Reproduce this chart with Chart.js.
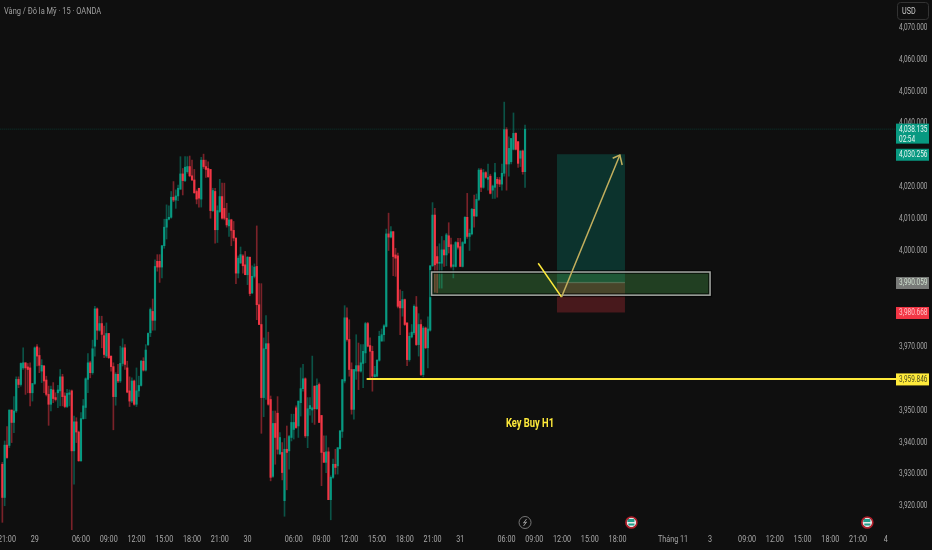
<!DOCTYPE html>
<html>
<head>
<meta charset="utf-8">
<style>
  html, body { margin: 0; padding: 0; background: #0f0f0f; }
  canvas { display: block; }
</style>
<script src="https://cdn.jsdelivr.net/npm/chart.js@4/dist/chart.umd.min.js"></script>
</head>
<body>
<canvas id="chart" width="932" height="550"></canvas>
<script>
const opens = [
  3933.1,3922.7,3939.1,3939,3950.1,3946.2,3949.8,3959.7,3958.1,3963.3,
  3964.9,3963.6,3963.3,3955.5,3958.4,3969.9,3967.2,3962.3,3963.9,3959.5,
  3955,3951.9,3956.4,3954,3955.5,3956.1,3960.5,3954.5,3951.2,3955,
  3956.1,3937.3,3946.4,3943.2,3934.2,3947.4,3950.9,3959.7,3964.9,3961.8,
  3970.1,3981.8,3975.1,3977.2,3973.4,3967,3974.1,3967,3963.7,3954.3,
  3961.3,3959.2,3964.7,3969.6,3963.3,3956.1,3952.9,3959.2,3951.9,3956.1,
  3957.8,3965.4,3962.6,3970.6,3974.3,3981,3978.2,3996.7,3996.7,3994.9,
  4001.6,4007.4,4009.9,4010.5,4016.8,4015.9,4017.2,4019.3,4024.1,4022,
  4024.8,4026.4,4023.5,4022.2,4018.6,4019.6,4016.2,4028.4,4026.4,4025.8,
  4025.5,4012.6,4018.6,4006.6,4012.3,4017,4013.3,4010.2,4007.8,4009.7,
  4006.4,4004,3993,3996.2,3998.4,3995.6,3992.5,3998,3986.8,3992,
  3995.1,3983.1,3976.9,3954,3969.3,3970.9,3953.4,3929.3,3945.9,3949.1,
  3936.3,3936.8,3921.7,3937.8,3937.3,3941.5,3944,3950.8,3945.1,3952.4,
  3956.8,3959.9,3942,3950.5,3950.1,3957.6,3950.5,3958.1,3948.4,3936.8,
  3933.7,3937,3922,3929,3933.1,3932.6,3938,3943.4,3959.2,3979,
  3972.2,3962.8,3950.3,3962.3,3964,3962.3,3964.7,3968,3977.2,3970.3,
  3968.5,3960.5,3960.7,3965.7,3971.7,3973.7,3976.3,4005.3,4004.3,4006,
  3998.7,3998.4,3984.2,3982.1,3984.7,3977.4,3965.9,3973,3974.3,3982.4,
  3970.6,3976.9,3961.2,3975.8,3969.6,3975.1,3995.3,4011.2,3998.2,3996.1,
  3996.1,4000.3,3998.7,4004.7,4001.9,3995.1,3995.1,4002.6,4001.3,3995.1,
  4002.4,4010.5,4004.5,4005.3,4013,4010.9,4016.1,4025.3,4019.9,4024.5,
  4022.4,4023.4,4019,4019.9,4022.4,4022.2,4020.9,4024.3,4038,4027.2,
  4027.9,4031.8,4036.8,4034.2,4029,4031.3,4024.8
];
const highs = [
  3933.7,3940.4,3944.9,3950.1,3950.1,3954.3,3960.5,3960.5,3964.9,3969.6,
  3964.9,3964.7,3964.9,3958.4,3969.9,3970.6,3969.6,3965.9,3964.1,3960.7,
  3957.6,3957.6,3958.7,3955.5,3957.8,3962.8,3961.3,3955.5,3956.6,3956.4,
  3956.4,3948.2,3947.7,3943.5,3949.3,3953.4,3960.2,3967.8,3965.4,3972,
  3982.6,3982.1,3979.5,3979.5,3976.4,3977.4,3974.1,3967,3964.9,3961.8,
  3964.4,3970.1,3972.4,3970.6,3965.4,3960.5,3960.2,3959.5,3963.3,3960.7,
  3965.7,3966.5,3970.6,3974.3,3982.1,3984.9,3997.2,3998.8,3998.8,4001.6,
  4009.9,4014.4,4014.1,4018.6,4021.7,4019.1,4020.6,4029.5,4025.8,4029.5,
  4029.5,4029.7,4028.4,4025.5,4019.1,4019.6,4029.3,4030.3,4028.4,4027.9,
  4025.5,4019.6,4019.6,4014.1,4022.4,4021.2,4021.2,4014.9,4011.8,4009.9,
  4009.2,4004,3998.4,4001.2,3998.8,3999.8,3998.2,3998,3995.3,3995.9,
  4007.8,3989.7,3989.7,3972.7,3979.7,3974.5,3954.5,3949.8,3949.8,3954.3,
  3943,3939.9,3941.2,3945.1,3942.2,3948.8,3948.8,3951.4,3952.9,3963.3,
  3964.4,3960.2,3954,3954,3967,3957.6,3959.9,3958.6,3948.4,3942,
  3942,3938.3,3929.5,3934.7,3937.8,3938.3,3943.6,3959.7,3982.8,3982.1,
  3978.4,3964.9,3962.8,3973.7,3971.1,3970.6,3970.6,3977.6,3977.6,3972.7,
  3970.1,3963.8,3965.9,3974.8,3975.5,3976.9,4006.8,4011.8,4007.6,4006,
  4000.8,3999.3,3987.8,3987.3,3984.9,3977.4,3974.3,3976.9,3983.1,3985.7,
  3980.3,3978.4,3976.3,3976.1,3979.3,3995.3,4015.1,4013.3,4001.3,4002.2,
  4004.5,4003.2,4005.5,4008.8,4004,4001.9,4002.9,4003.9,4003.9,4002.9,
  4010.7,4018,4006.8,4013.3,4017.5,4017.8,4025.8,4025.8,4025.5,4024.8,
  4027.2,4024,4020.6,4027.4,4023,4023,4027.2,4046.6,4038.6,4035.7,
  4035.2,4043.2,4037,4034.2,4031.3,4031.6,4039.4
];
const lows = [
  3914.9,3920.1,3934.9,3938.3,3939.9,3943,3949.3,3957.1,3957.6,3962.8,
  3955,3955.5,3951.4,3952.9,3958.1,3963.9,3961.8,3958.7,3955.5,3954.5,
  3945.3,3949.8,3952.4,3952.9,3950.8,3951.4,3951.4,3950.8,3950.8,3951.4,
  3912.3,3926.9,3939.9,3934,3934,3947.2,3947.4,3955.5,3960.2,3961.3,
  3967,3972.2,3974.8,3969.6,3966.5,3966.5,3966.2,3962.3,3943.9,3951.6,
  3958.7,3958.7,3963.9,3962.8,3955.5,3951.2,3952.4,3951.6,3951.2,3954.3,
  3957.6,3962.3,3962.3,3970.3,3973.1,3975.1,3975.1,3993.6,3990.1,3991.5,
  4000.8,4003.7,4009.7,4010.2,4015.4,4013.3,4015.7,4019.3,4017.5,4021.7,
  4024.3,4023.2,4022,4018,4014.7,4013.7,4013.7,4025.8,4023,4023,
  4010.2,4012.3,4002.4,4002.6,4012,4009.9,4009.7,4007.4,4004.5,4001.6,
  4003.1,3989.7,3991.5,3996,3993,3992.5,3989.4,3985.9,3986.6,3991.5,
  3978.4,3976.9,3942.8,3948,3953.4,3951.6,3927.9,3929,3933.1,3936.3,
  3936.3,3928.2,3916.8,3925.1,3931.6,3940.4,3941,3944.3,3941.5,3948.2,
  3956,3941.5,3938.3,3948.5,3946.2,3945.6,3950.3,3946.2,3926.4,3933.7,
  3930.5,3922,3915.7,3928.7,3930,3930,3937.8,3941.5,3958.6,3971.7,
  3960.7,3948.8,3947.2,3959.7,3956.5,3962,3957.1,3964.9,3969.9,3959.7,
  3956,3960.5,3960.5,3965.4,3971.7,3971.7,3976.1,4000.1,4004,3992.2,
  3992,3982.1,3973.7,3979.5,3976.6,3964,3965.4,3972.7,3973.7,3970.3,
  3967,3960.9,3960.5,3969.3,3963.3,3974.8,3995.1,3987,3986.8,3988.3,
  3988.3,3995.1,3995.3,3999.3,3994.6,3991.5,3994.9,4000.5,3995.1,3994.9,
  4002.2,4003.9,4000.1,4005,4007.4,4010.7,4015.7,4018.5,4019.6,4022.7,
  4019,4017.8,4016.4,4016.4,4016.8,4020.1,4019,4023.4,4019,4023.4,
  4027.2,4031.6,4031.6,4026.1,4026.4,4024,4019.9
];
const closes = [
  3922.7,3939.1,3935.2,3950.1,3946.2,3949.8,3959.7,3958.1,3964.7,3964.9,
  3963.3,3962.8,3955.5,3958.4,3969.6,3967,3964.1,3964.1,3959.2,3955,
  3951.9,3956.6,3953.7,3953.4,3956.4,3960.5,3954.3,3951.2,3955.3,3955.5,
  3937.3,3946.4,3943.2,3934.2,3947.4,3951.4,3959.9,3964.9,3961.8,3969.3,
  3981.8,3975.1,3977.2,3973.8,3967.5,3974.1,3966.5,3963.7,3954.3,3961.3,
  3959.2,3964.7,3969.6,3964.4,3955.7,3952.9,3959.2,3951.9,3956.1,3957.8,
  3965.4,3962.6,3968.9,3974.1,3981.6,3978.2,3995.1,3994.9,3994.9,4001.6,
  4007.4,4009.9,4010.5,4016.8,4015.9,4017.2,4019.6,4024.1,4022,4026.2,
  4026.4,4023.5,4022.2,4018.2,4016.2,4016.5,4028.4,4026.4,4025.5,4023.2,
  4012.6,4018.9,4006.6,4012.6,4017,4010.2,4010.2,4008.1,4009.7,4006.4,
  4004,3993,3997.7,3998.8,3995.3,3992.5,3998,3986.6,3992,3994.9,
  3983.1,3976.9,3954,3969.3,3970.9,3951.9,3929,3945.9,3941.5,3937.8,
  3941.5,3930.5,3937.8,3936.8,3941.8,3946.2,3946.2,3944.6,3952.9,3956.8,
  3959.9,3942,3950.5,3951.5,3950.8,3950.5,3957.8,3946.2,3936.8,3933.7,
  3937,3922,3929,3933.1,3932.1,3938.3,3943.6,3959.6,3979,3972.2,
  3962.8,3950.3,3962.8,3964,3962.3,3964.9,3968.5,3977.2,3970.1,3968.5,
  3960.7,3961.2,3965.7,3973.2,3973.7,3976.5,4005.3,4004.3,4006,3998.2,
  3997.7,3982.6,3982.1,3984.7,3976.9,3965.9,3973.2,3974.5,3982.6,3970.6,
  3976.9,3961.2,3975.8,3969.6,3975.5,3995.3,4011.2,3995.6,3996.1,3996.4,
  4000.3,3998.7,4005,4001.3,3995.1,3995.6,4002.6,4001.1,3995.1,4002.6,
  4010.5,4004.5,4005.5,4013,4010.9,4016.1,4025.3,4019.9,4024.5,4023,
  4023,4018,4020.3,4024.5,4021.1,4020.9,4024.3,4038,4027.2,4032.1,
  4035.2,4036.8,4031.8,4027.4,4031.3,4024.8,4038.1
];

// time axis, in 15 minute slots
const tickSlots = [2,14,34,46,58,70,82,94,106,126,138,150,162,174,186,198,218,230,242,254,266,290,306,322,334,346,358,370,382];
const tickLabels = ["21:00","29","06:00","09:00","12:00","15:00","18:00","21:00","30","06:00","09:00","12:00","15:00","18:00","21:00","31","06:00","09:00","12:00","15:00","18:00","Tháng 11","3","09:00","12:00","15:00","18:00","21:00","4"];

const lastPrice = 4038.135;
const keyBuyPrice = 3959.846;
const entryPrice = 3990.059;
const targetPrice = 4030.256;
const stopPrice = 3980.668;

const zoneSlots = [185.6, 306];
const zonePrices = [3993.35, 3986.1];
const positionSlots = [239.8, 269.2];
const priceLineSlots = [-2, 387];
const keyBuySlots = [157.5, 387];

const zigzagSlots = [231.7, 241.8];
const zigzagPrices = [3996.1, 3985.5];
const arrowSlots = [241.8, 267];
const arrowPrices = [3985.5, 4030];
const arrowHeadSlots = [263.9, 267, 268];
const arrowHeadPrices = [4029, 4030, 4026.9];

const eventSlots = [226, 272, 374];

const UP = "#089981";
const DOWN = "#f23645";
const UP_WICK = "#0b5347";
const DOWN_WICK = "#7a2229";
const TEXT = "#a8a8a8";
const FONT = "Roboto, sans-serif";

const toPoints = (xs, ys) => xs.map((x, i) => ({ x, y: ys[i] }));
const candleColor = (up, down) => opens.map((o, i) => (closes[i] >= o ? up : down));
const fmt = (v) => v.toLocaleString("en-US", { minimumFractionDigits: 3, maximumFractionDigits: 3 });

const lineSet = (data, color, width, order, extra) => ({
  type: "line", data, borderColor: color, borderWidth: width,
  pointRadius: 0, tension: 0, order, ...extra,
});

// the reference text is squeezed sideways, and none of the fonts are narrow
const squeezedText = (ctx, text, px, py, sx) => {
  ctx.save();
  ctx.translate(px, py);
  ctx.scale(sx, 1);
  ctx.fillText(text, 0, 0);
  ctx.restore();
};

const overlayPlugin = {
  id: "overlay",
  afterDatasetDraw(chart, args) {
    if (args.index !== 1) return;
    const { ctx, scales: { x, y } } = chart;
    const rect = (x0, x1, p0, p1, fill) => {
      ctx.fillStyle = fill;
      ctx.fillRect(x.getPixelForValue(x0), y.getPixelForValue(p0),
        x.getPixelForValue(x1) - x.getPixelForValue(x0), y.getPixelForValue(p1) - y.getPixelForValue(p0));
    };
    ctx.save();
    // long position box
    rect(positionSlots[0], positionSlots[1], targetPrice, entryPrice, "rgba(8,153,129,0.27)");
    rect(positionSlots[0], positionSlots[1], entryPrice, stopPrice, "rgba(242,54,69,0.25)");
    rect(positionSlots[0], positionSlots[1], entryPrice + 0.2, entryPrice - 0.2, "rgba(200,200,200,0.3)");

    // key zone
    const zx0 = x.getPixelForValue(zoneSlots[0]);
    const zx1 = x.getPixelForValue(zoneSlots[1]);
    const zy0 = y.getPixelForValue(zonePrices[0]);
    const zy1 = y.getPixelForValue(zonePrices[1]);
    ctx.fillStyle = "rgba(76,175,80,0.3)";
    ctx.fillRect(zx0, zy0, zx1 - zx0, zy1 - zy0);
    ctx.strokeStyle = "rgba(0,0,0,0.6)";
    ctx.lineWidth = 4;
    ctx.strokeRect(zx0, zy0, zx1 - zx0, zy1 - zy0);
    ctx.strokeStyle = "#a5a8a4";
    ctx.lineWidth = 1.5;
    ctx.strokeRect(zx0, zy0, zx1 - zx0, zy1 - zy0);
    ctx.restore();
  },
  afterDraw(chart) {
    const { ctx, scales: { x, y } } = chart;
    ctx.save();
    ctx.textBaseline = "middle";
    ctx.font = "9px " + FONT;
    ctx.fillStyle = TEXT;

    // axis labels, at the ticks the scales built
    ctx.textAlign = "center";
    x.ticks.forEach((tick) => squeezedText(ctx, tick.label, x.getPixelForValue(tick.value), 540, 0.8));
    ctx.textAlign = "left";
    y.ticks.forEach((tick) => squeezedText(ctx, tick.label, 899, y.getPixelForValue(tick.value), 0.72));

    const tag = (price, bg, fg, lines) => {
      const py = y.getPixelForValue(price);
      ctx.fillStyle = bg;
      ctx.fillRect(896, py - 5.5, 33, lines.length > 1 ? 20 : 12);
      ctx.fillStyle = fg;
      lines.forEach((t, i) => squeezedText(ctx, t, 899, py + 0.5 + i * 10, 0.72));
    };
    tag(lastPrice, UP, "#e8f5f2", [fmt(lastPrice), "02:54"]);
    tag(targetPrice, UP, "#e8f5f2", [fmt(targetPrice)]);
    tag(entryPrice, "#787a78", "#cfe0cf", [fmt(entryPrice)]);
    tag(stopPrice, DOWN, "#ffc4c8", [fmt(stopPrice)]);
    tag(keyBuyPrice, "#ffeb3b", "#4a4a20", [fmt(keyBuyPrice)]);

    // USD button
    ctx.strokeStyle = "#333333";
    ctx.lineWidth = 1;
    ctx.beginPath();
    ctx.roundRect(897.5, 2.5, 31, 17, 3);
    ctx.stroke();
    ctx.fillStyle = "#c8c8c8";
    squeezedText(ctx, "USD", 902, 12, 0.8);

    // header
    ctx.font = "9.5px " + FONT;
    ctx.fillStyle = "#a0a0a0";
    squeezedText(ctx, "Vàng / Đô la Mỹ · 15 · OANDA", 4, 12, 0.785);

    // note
    ctx.font = "bold 12px " + FONT;
    ctx.fillStyle = "#ffeb3b";
    ctx.textAlign = "center";
    squeezedText(ctx, "Key Buy H1", 530, 424, 0.78);

    // event markers above the time axis
    const eventY = 522.5;
    const bolt = x.getPixelForValue(eventSlots[0]);
    ctx.strokeStyle = "#777777";
    ctx.lineWidth = 1;
    ctx.beginPath();
    ctx.arc(bolt, eventY, 6, 0, Math.PI * 2);
    ctx.stroke();
    ctx.strokeStyle = "#999999";
    ctx.beginPath();
    ctx.moveTo(bolt + 1.5, eventY - 3.5);
    ctx.lineTo(bolt - 1.5, eventY + 0.5);
    ctx.lineTo(bolt + 1.5, eventY - 0.5);
    ctx.lineTo(bolt - 1.5, eventY + 3.5);
    ctx.stroke();
    eventSlots.slice(1).forEach((slot) => {
      const fx = x.getPixelForValue(slot);
      ctx.fillStyle = "#e8e8e8";
      ctx.beginPath();
      ctx.arc(fx, eventY, 5, 0, Math.PI * 2);
      ctx.fill();
      ctx.fillStyle = "#1f9c8a";
      ctx.fillRect(fx - 4, eventY - 3.5, 7, 3);
      ctx.fillRect(fx - 3, eventY + 1, 6, 2);
      ctx.strokeStyle = "#b3202c";
      ctx.lineWidth = 1.6;
      ctx.beginPath();
      ctx.arc(fx, eventY, 5.5, 0, Math.PI * 2);
      ctx.stroke();
    });
    ctx.restore();
  },
};

new Chart(document.getElementById("chart"), {
  type: "bar",
  plugins: [overlayPlugin],
  data: {
    datasets: [
      {
        data: opens.map((_, i) => ({ x: i, y: [lows[i], highs[i]] })),
        backgroundColor: candleColor(UP_WICK, DOWN_WICK),
        barThickness: 1,
        grouped: false,
        order: 9,
      },
      {
        data: opens.map((o, i) => ({ x: i, y: [o, closes[i]] })),
        backgroundColor: candleColor(UP, DOWN),
        barThickness: 1.5,
        minBarLength: 1,
        grouped: false,
        order: 8,
      },
      lineSet(priceLineSlots.map((s) => ({ x: s, y: lastPrice })), "rgba(8,153,129,0.3)", 1, 7, { borderDash: [1, 1] }),
      lineSet(keyBuySlots.map((s) => ({ x: s, y: keyBuyPrice })), "#ffeb3b", 2, 4),
      lineSet(toPoints(zigzagSlots, zigzagPrices), "#ffeb3b", 1.5, 3),
      lineSet(toPoints(arrowSlots, arrowPrices), "#c4b05e", 1.5, 2),
      lineSet(toPoints(arrowHeadSlots, arrowHeadPrices), "#c4b05e", 1.5, 1),
    ],
  },
  options: {
    responsive: false,
    animation: false,
    layout: { padding: 0 },
    plugins: { legend: { display: false }, tooltip: { enabled: false }, title: { display: false } },
    scales: {
      x: {
        type: "linear",
        offset: false,
        min: -1.02,
        max: 386.4,
        grid: { display: false, drawTicks: false },
        border: { display: false },
        afterBuildTicks: (scale) => { scale.ticks = tickSlots.map((value) => ({ value })); },
        afterFit: (scale) => { scale.height = 20; },
        ticks: {
          display: false,
          autoSkip: false,
          maxRotation: 0,
          callback: (value, index) => tickLabels[index],
        },
      },
      y: {
        position: "right",
        min: 3912.5,
        max: 4078.6,
        grid: { display: false, drawTicks: false },
        border: { display: false },
        afterFit: (scale) => { scale.width = 36; },
        ticks: {
          display: false,
          stepSize: 10,
          includeBounds: false,
          callback: (value) => fmt(value),
        },
      },
    },
  },
});
</script>
</body>
</html>
